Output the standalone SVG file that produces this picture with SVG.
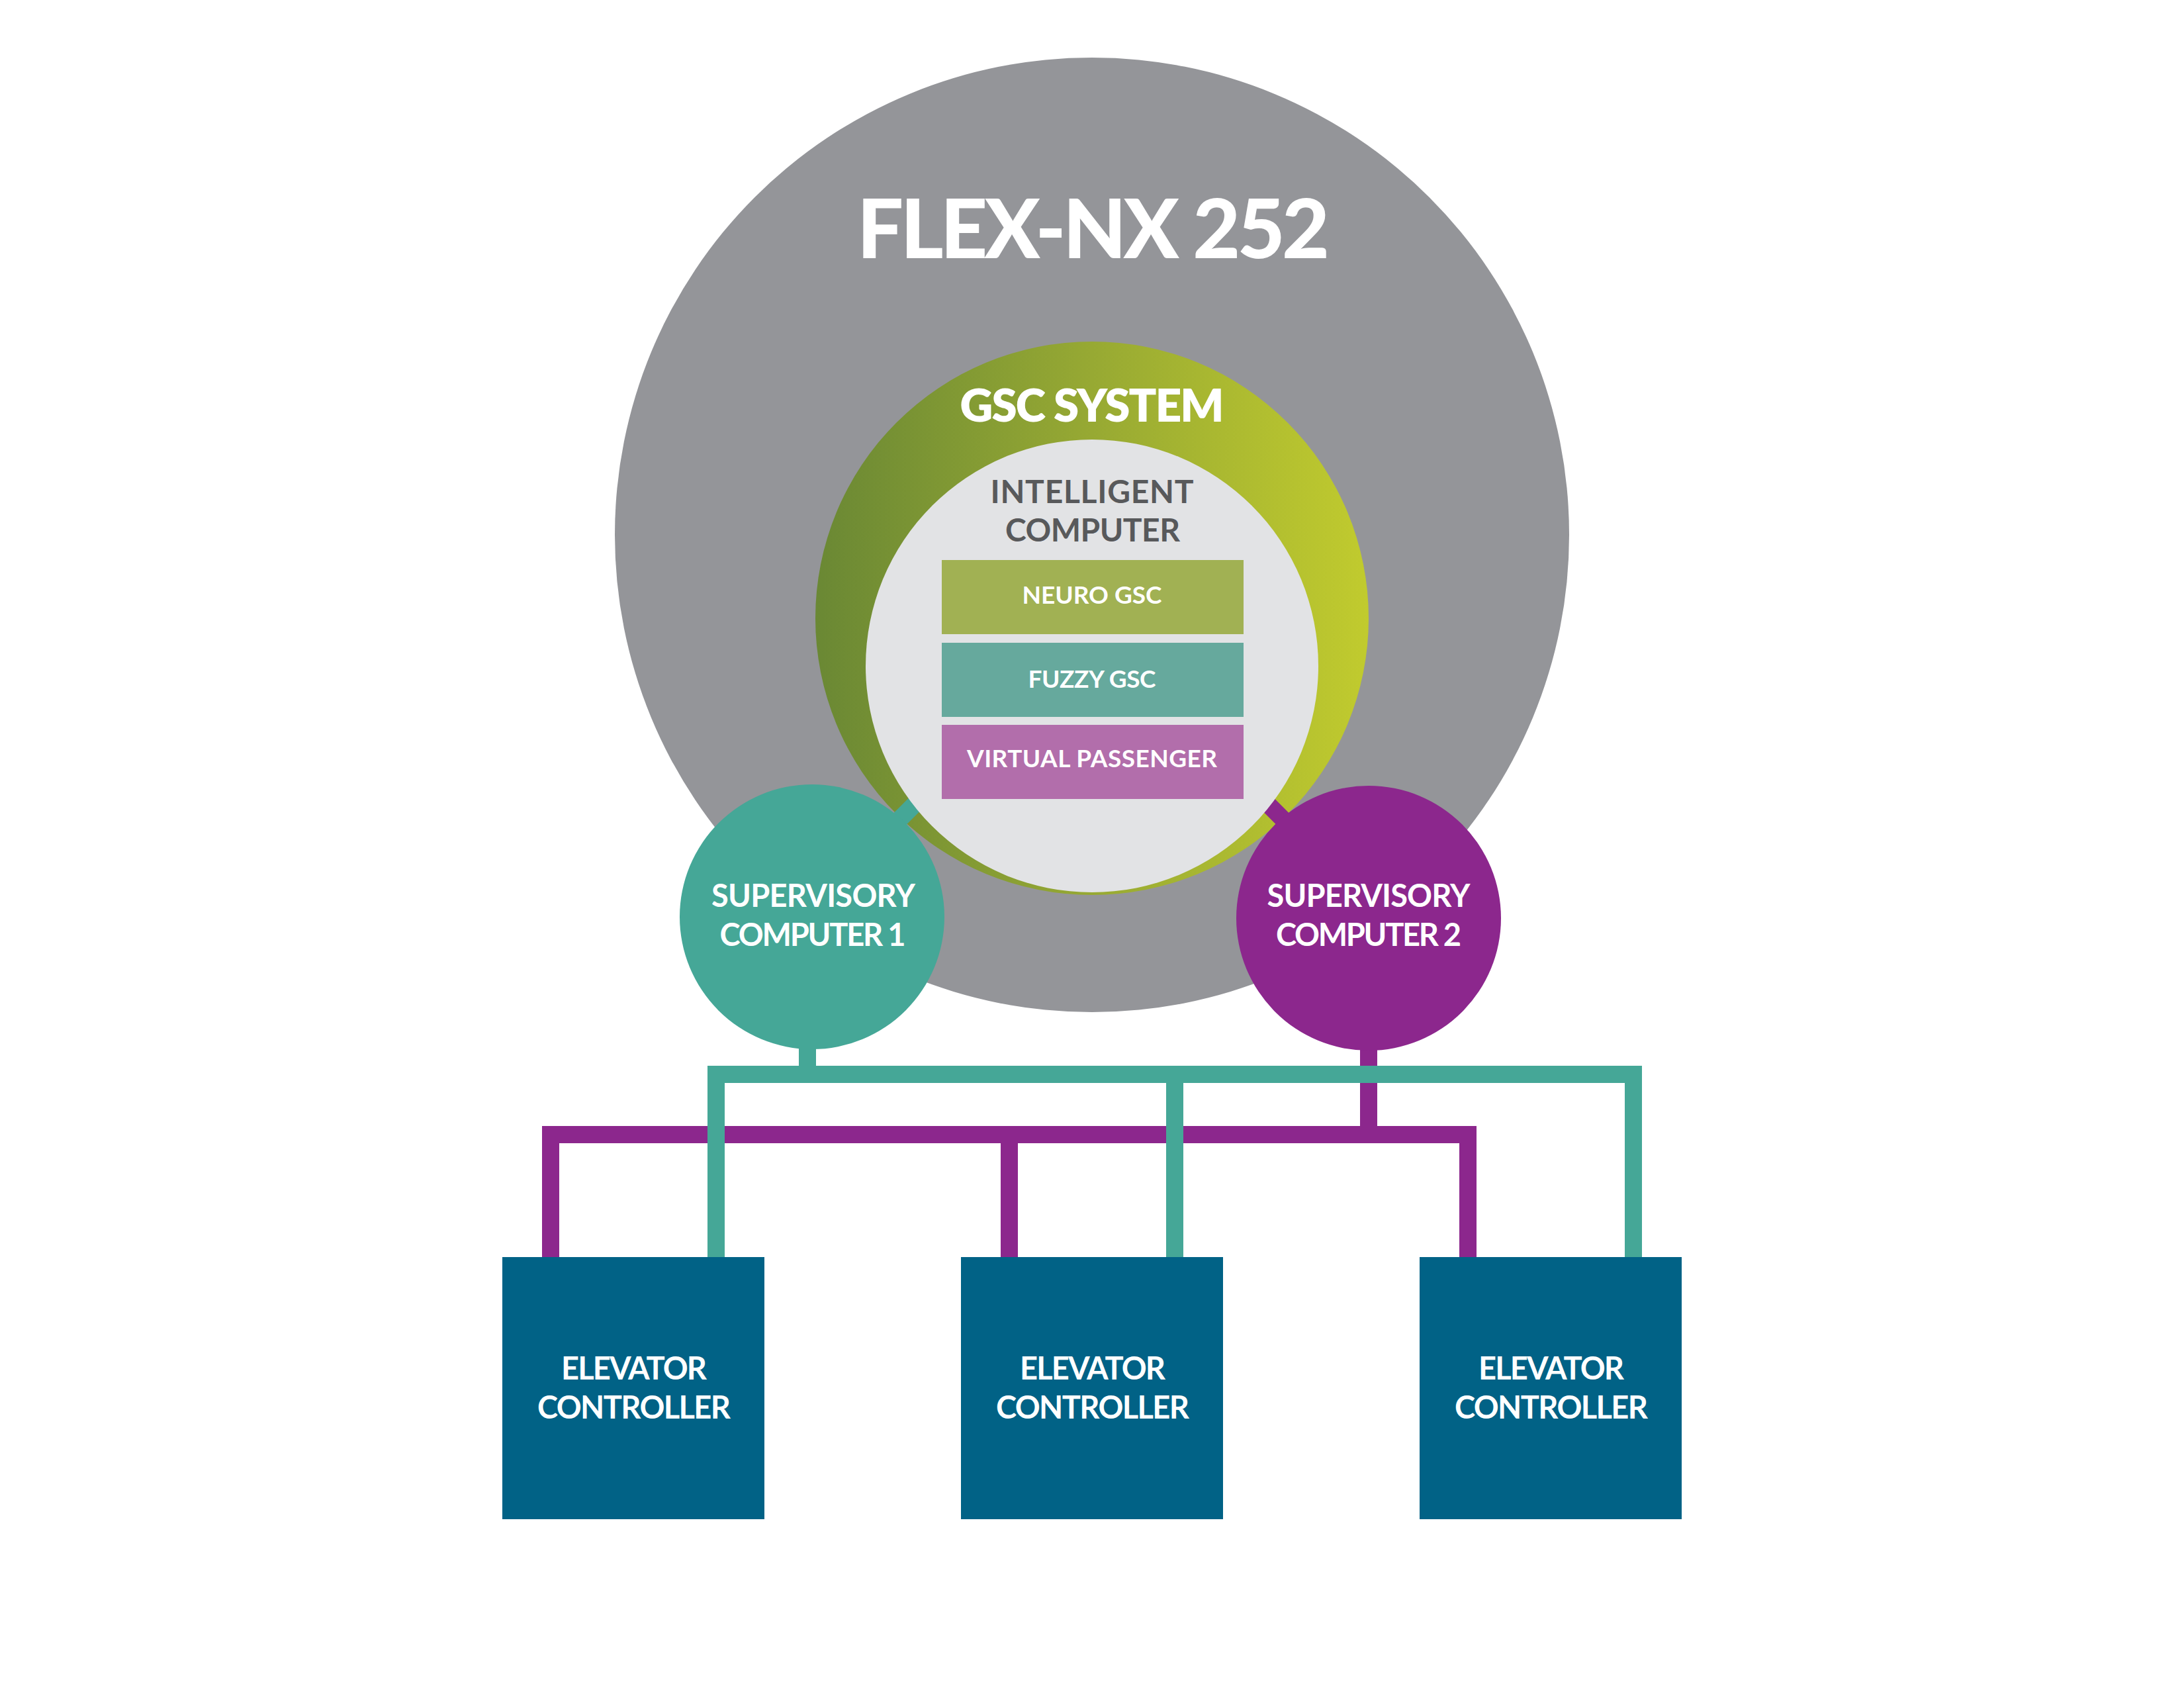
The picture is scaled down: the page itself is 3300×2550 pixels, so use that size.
<svg xmlns="http://www.w3.org/2000/svg" width="3300" height="2550" viewBox="0 0 3300 2550">
  <defs>
    <linearGradient id="gscGrad" x1="1232" y1="0" x2="2068" y2="0" gradientUnits="userSpaceOnUse">
      <stop offset="0" stop-color="#6a8834"/>
      <stop offset="0.5" stop-color="#97a933"/>
      <stop offset="1" stop-color="#c1cb2e"/>
    </linearGradient>
  </defs>
  <style>
    text { font-family: Lato, "Liberation Sans", "DejaVu Sans", sans-serif; font-weight: 700; text-anchor: middle; fill: #ffffff; }
    .title { font-size: 124px; font-weight: 900; }
    .gsc { font-size: 69px; font-weight: 800; }
    .ic { font-size: 48px; fill: #58595b; }
    .layer { font-size: 37px; }
    .node { font-size: 47px; }
    .teal { fill: none; stroke: #45a797; stroke-width: 26; stroke-linejoin: miter; stroke-linecap: butt; }
    .purple { fill: none; stroke: #8c278d; stroke-width: 26; stroke-linejoin: miter; stroke-linecap: butt; }
    .box { fill: #016286; }
  </style>
  <rect x="0" y="0" width="3300" height="2550" fill="#ffffff"/>

  <g id="flex-nx-252">
    <circle cx="1650" cy="808" r="721" fill="#949599"/>
    <text class="title" x="1652" y="390" textLength="714">FLEX-NX 252</text>
  </g>

  <g id="gsc-system">
    <circle cx="1650" cy="934" r="418" fill="url(#gscGrad)"/>
    <text class="gsc" x="1650" y="637" textLength="399">GSC SYSTEM</text>
  </g>

  <g id="connectors">
    <line class="teal" x1="1331" y1="1266" x2="1411" y2="1186"/>
    <line class="purple" x1="1888" y1="1187" x2="1968" y2="1267"/>
    <path class="purple" d="M832 1899 V1714 H2218 V1899"/>
    <path class="purple" d="M1525 1714 V1899"/>
    <path class="purple" d="M2068 1560 V1714"/>
    <path class="teal" d="M1082 1899 V1623 H2468 V1899"/>
    <path class="teal" d="M1775 1623 V1899"/>
    <path class="teal" d="M1220 1560 V1623"/>
  </g>

  <g id="intelligent-computer">
    <circle cx="1650" cy="1006" r="342" fill="#e2e3e5"/>
    <text class="ic" x="1650" y="760" textLength="307">INTELLIGENT</text>
    <text class="ic" x="1651" y="818" textLength="264">COMPUTER</text>
  </g>

  <g id="neuro-gsc">
    <rect x="1423" y="846" width="456" height="112" fill="#a1b153"/>
    <text class="layer" x="1650" y="912" textLength="211">NEURO GSC</text>
  </g>
  <g id="fuzzy-gsc">
    <rect x="1423" y="971" width="456" height="112" fill="#66a99d"/>
    <text class="layer" x="1650" y="1039" textLength="193">FUZZY GSC</text>
  </g>
  <g id="virtual-passenger">
    <rect x="1423" y="1095" width="456" height="112" fill="#b26eab"/>
    <text class="layer" x="1650" y="1159" textLength="378">VIRTUAL PASSENGER</text>
  </g>

  <g id="supervisory-computer-1">
    <circle cx="1227" cy="1385" r="200" fill="#45a797"/>
    <text class="node" x="1229" y="1370" textLength="308">SUPERVISORY</text>
    <text class="node" x="1228" y="1429" textLength="281">COMPUTER 1</text>
  </g>
  <g id="supervisory-computer-2">
    <circle cx="2068" cy="1387" r="200" fill="#8c278d"/>
    <text class="node" x="2068" y="1370" textLength="307">SUPERVISORY</text>
    <text class="node" x="2068" y="1429" textLength="280">COMPUTER 2</text>
  </g>

  <g id="elevator-controller-1">
    <rect class="box" x="759" y="1899" width="396" height="396"/>
    <text class="node" x="958" y="2084" textLength="220">ELEVATOR</text>
    <text class="node" x="958" y="2143" textLength="292">CONTROLLER</text>
  </g>
  <g id="elevator-controller-2">
    <rect class="box" x="1452" y="1899" width="396" height="396"/>
    <text class="node" x="1651" y="2084" textLength="220">ELEVATOR</text>
    <text class="node" x="1651" y="2143" textLength="292">CONTROLLER</text>
  </g>
  <g id="elevator-controller-3">
    <rect class="box" x="2145" y="1899" width="396" height="396"/>
    <text class="node" x="2344" y="2084" textLength="220">ELEVATOR</text>
    <text class="node" x="2344" y="2143" textLength="292">CONTROLLER</text>
  </g>
</svg>
